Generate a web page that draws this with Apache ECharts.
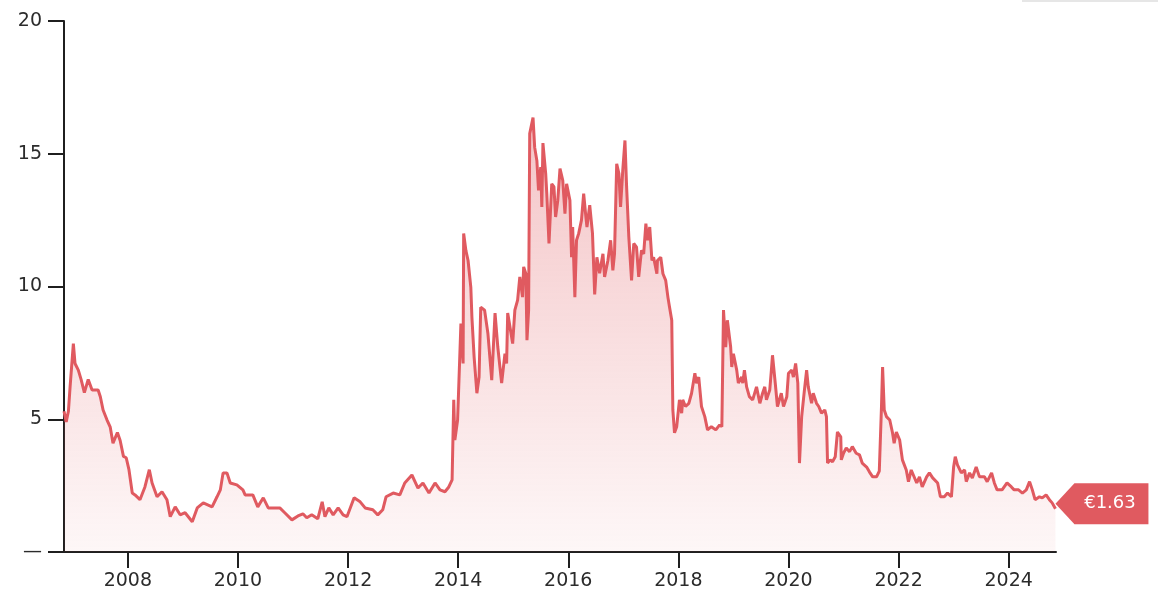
<!DOCTYPE html>
<html>
<head>
<meta charset="utf-8">
<script src="https://cdn.jsdelivr.net/npm/echarts@6/dist/echarts.min.js"></script>
<style>
  html, body { margin: 0; padding: 0; background: #fff; }
  #chart { width: 1158px; height: 598px; }
</style>
</head>
<body>
<div id="chart"></div>
<script>
// dates as decimal years, price in euro
const dates = [
  2006.84, 2006.88, 2006.92, 2006.95, 2007.01, 2007.04, 2007.10, 2007.15, 2007.21, 2007.28,
  2007.35, 2007.46, 2007.50, 2007.55, 2007.62, 2007.68, 2007.73, 2007.81, 2007.86, 2007.92,
  2007.97, 2008.02, 2008.08, 2008.13, 2008.22, 2008.31, 2008.39, 2008.44, 2008.53, 2008.62,
  2008.71, 2008.77, 2008.86, 2008.95, 2009.04, 2009.17, 2009.26, 2009.37, 2009.53, 2009.62,
  2009.68, 2009.73, 2009.80, 2009.86, 2009.98, 2010.09, 2010.13, 2010.27, 2010.36, 2010.46,
  2010.55, 2010.76, 2010.85, 2010.98, 2011.09, 2011.18, 2011.25, 2011.34, 2011.45, 2011.53,
  2011.58, 2011.65, 2011.73, 2011.82, 2011.91, 2011.98, 2012.11, 2012.22, 2012.31, 2012.45,
  2012.54, 2012.63, 2012.69, 2012.82, 2012.94, 2013.03, 2013.16, 2013.27, 2013.36, 2013.47,
  2013.58, 2013.67, 2013.76, 2013.83, 2013.89, 2013.92, 2013.94, 2013.99, 2014.05, 2014.09,
  2014.10, 2014.14, 2014.18, 2014.23, 2014.25, 2014.29, 2014.34, 2014.38, 2014.41, 2014.48,
  2014.54, 2014.61, 2014.67, 2014.72, 2014.79, 2014.85, 2014.88, 2014.90, 2014.96, 2014.99,
  2015.03, 2015.08, 2015.12, 2015.17, 2015.19, 2015.23, 2015.25, 2015.28, 2015.30, 2015.36,
  2015.39, 2015.43, 2015.46, 2015.50, 2015.52, 2015.54, 2015.59, 2015.61, 2015.65, 2015.70,
  2015.74, 2015.77, 2015.81, 2015.85, 2015.90, 2015.94, 2015.97, 2016.03, 2016.06, 2016.08,
  2016.12, 2016.15, 2016.19, 2016.24, 2016.28, 2016.32, 2016.34, 2016.39, 2016.44, 2016.48,
  2016.52, 2016.57, 2016.63, 2016.66, 2016.72, 2016.77, 2016.81, 2016.84, 2016.88, 2016.92,
  2016.95, 2016.99, 2017.03, 2017.06, 2017.10, 2017.15, 2017.19, 2017.24, 2017.28, 2017.33,
  2017.37, 2017.41, 2017.44, 2017.48, 2017.52, 2017.55, 2017.61, 2017.62, 2017.68, 2017.72,
  2017.77, 2017.81, 2017.84, 2017.88, 2017.90, 2017.93, 2017.97, 2018.02, 2018.06, 2018.08,
  2018.13, 2018.19, 2018.24, 2018.30, 2018.33, 2018.37, 2018.42, 2018.48, 2018.53, 2018.60,
  2018.68, 2018.75, 2018.79, 2018.82, 2018.86, 2018.89, 2018.95, 2018.97, 2019.00, 2019.06,
  2019.09, 2019.15, 2019.17, 2019.20, 2019.24, 2019.29, 2019.35, 2019.42, 2019.48, 2019.53,
  2019.57, 2019.60, 2019.66, 2019.69, 2019.71, 2019.76, 2019.80, 2019.87, 2019.91, 2019.97,
  2020.00, 2020.06, 2020.09, 2020.13, 2020.17, 2020.20, 2020.24, 2020.29, 2020.33, 2020.36,
  2020.42, 2020.45, 2020.51, 2020.55, 2020.60, 2020.66, 2020.69, 2020.71, 2020.76, 2020.80,
  2020.85, 2020.89, 2020.95, 2020.96, 2021.00, 2021.05, 2021.11, 2021.16, 2021.23, 2021.29,
  2021.34, 2021.42, 2021.47, 2021.53, 2021.60, 2021.65, 2021.69, 2021.71, 2021.74, 2021.78,
  2021.84, 2021.89, 2021.92, 2021.96, 2022.02, 2022.07, 2022.14, 2022.18, 2022.23, 2022.33,
  2022.38, 2022.43, 2022.51, 2022.56, 2022.62, 2022.71, 2022.76, 2022.83, 2022.89, 2022.96,
  2023.00, 2023.03, 2023.07, 2023.14, 2023.20, 2023.23, 2023.29, 2023.34, 2023.41, 2023.47,
  2023.56, 2023.61, 2023.69, 2023.74, 2023.79, 2023.88, 2023.97, 2024.05, 2024.10, 2024.18,
  2024.25, 2024.32, 2024.38, 2024.43, 2024.48, 2024.56, 2024.61, 2024.68, 2024.74, 2024.79,
  2024.85
];
const prices = [
  5.3, 4.9, 5.3, 6.2, 7.85, 7.1, 6.85, 6.5, 6.0, 6.5,
  6.1, 6.1, 5.85, 5.35, 4.98, 4.7, 4.1, 4.5, 4.2, 3.6,
  3.55, 3.1, 2.22, 2.15, 1.97, 2.45, 3.1, 2.6, 2.08, 2.27,
  1.97, 1.33, 1.7, 1.4, 1.48, 1.14, 1.66, 1.85, 1.7, 2.08,
  2.34, 2.98, 2.98, 2.6, 2.53, 2.34, 2.15, 2.15, 1.7, 2.04,
  1.66, 1.66, 1.48, 1.21, 1.36, 1.44, 1.29, 1.4, 1.25, 1.89,
  1.33, 1.66, 1.4, 1.66, 1.4, 1.33, 2.04, 1.89, 1.66, 1.59,
  1.4, 1.59, 2.08, 2.22, 2.15, 2.6, 2.9, 2.41, 2.6, 2.22,
  2.6, 2.34, 2.27, 2.45, 2.72, 5.73, 4.22, 4.97, 8.6, 7.1,
  12.0, 11.36, 10.98, 9.97, 8.84, 7.34, 5.98, 6.59, 9.22, 9.11,
  8.24, 6.47, 9.0, 7.72, 6.36, 7.47, 7.1, 9.0, 8.24, 7.85,
  9.11, 9.49, 10.36, 9.6, 10.74, 10.48, 7.98, 9.11, 15.76, 16.36,
  15.24, 14.74, 13.62, 14.5, 13.0, 15.4, 14.25, 13.5, 11.62, 13.87,
  13.75, 12.62, 13.25, 14.44, 14.0, 12.74, 13.87, 13.25, 11.1, 12.24,
  9.6, 11.74, 12.0, 12.5, 13.5, 12.62, 12.24, 13.06, 12.0, 9.7,
  11.1, 10.5, 11.23, 10.36, 10.98, 11.74, 10.61, 11.23, 14.62, 14.25,
  13.0, 14.37, 15.5, 13.75, 11.87, 10.23, 11.62, 11.48, 10.36, 11.36,
  11.23, 12.37, 11.74, 12.24, 10.98, 11.1, 10.48, 10.98, 11.1, 10.48,
  10.23, 9.6, 9.22, 8.73, 5.35, 4.49, 4.72, 5.73, 5.23, 5.73,
  5.48, 5.6, 5.98, 6.73, 6.36, 6.59, 5.48, 5.1, 4.6, 4.72,
  4.6, 4.79, 4.72, 9.11, 7.72, 8.73, 7.72, 6.97, 7.47, 6.85,
  6.36, 6.59, 6.36, 6.85, 6.22, 5.85, 5.73, 6.22, 5.6, 5.98,
  6.22, 5.73, 6.1, 6.85, 7.41, 6.36, 5.48, 5.98, 5.48, 5.85,
  6.73, 6.85, 6.59, 7.1, 6.36, 3.35, 5.1, 6.1, 6.85, 6.22,
  5.6, 5.98, 5.6, 5.48, 5.23, 5.35, 5.1, 3.35, 3.47, 3.4,
  3.59, 4.52, 4.34, 3.47, 3.72, 3.92, 3.78, 3.97, 3.72, 3.66,
  3.35, 3.2, 3.02, 2.83, 2.83, 3.05, 5.48, 6.97, 5.35, 5.1,
  4.97, 4.49, 4.1, 4.52, 4.22, 3.47, 3.09, 2.65, 3.09, 2.6,
  2.83, 2.45, 2.83, 2.98, 2.79, 2.6, 2.08, 2.08, 2.22, 2.08,
  3.2, 3.59, 3.28, 2.98, 3.09, 2.65, 2.98, 2.79, 3.2, 2.83,
  2.83, 2.65, 2.98, 2.6, 2.34, 2.34, 2.6, 2.45, 2.34, 2.34,
  2.22, 2.34, 2.65, 2.34, 1.97, 2.08, 2.04, 2.15, 1.97, 1.85,
  1.63
];
const yearTicks = [2008, 2010, 2012, 2014, 2016, 2018, 2020, 2022, 2024];
const lastPrice = 1.63;

const lineColor = '#e05a60';
const axisColor = '#1f1f1f';
const fontFamily = 'DejaVu Sans';

const chart = echarts.init(document.getElementById('chart'));
chart.setOption({
  animation: false,
  textStyle: { fontFamily: fontFamily },
  grid: {
    left: 64,
    right: 102,
    top: 21,
    bottom: 46
  },
  xAxis: {
    type: 'value',
    min: 2006.84,
    max: 2024.86,
    axisLine: { lineStyle: { color: axisColor, width: 2 } },
    axisTick: {
      show: true,
      inside: false,
      length: 16,
      lineStyle: { color: axisColor, width: 2 },
      customValues: yearTicks
    },
    axisLabel: {
      color: '#2b2b2b',
      fontSize: 19,
      margin: 20,
      fontFamily: fontFamily,
      customValues: yearTicks,
      formatter: (v) => String(v)
    },
    splitLine: { show: false }
  },
  yAxis: {
    type: 'value',
    min: 0,
    max: 20,
    interval: 5,
    axisLine: { show: true, lineStyle: { color: axisColor, width: 2 } },
    axisTick: {
      show: true,
      inside: false,
      length: 16,
      lineStyle: { color: axisColor, width: 2 }
    },
    axisLabel: {
      color: '#2b2b2b',
      fontSize: 19,
      margin: 22,
      fontFamily: fontFamily,
      formatter: (v) => (v === 0 ? '—' : String(v))
    },
    splitLine: { show: false }
  },
  graphic: [{
    // clipped button edge in top right corner
    type: 'rect',
    shape: { x: 1022, y: 0, width: 136, height: 2 },
    style: { fill: '#e6e6e6' }
  }],
  series: [{
    type: 'line',
    data: dates.map((d, i) => [d, prices[i]]),
    showSymbol: false,
    lineStyle: { color: lineColor, width: 3 },
    itemStyle: { color: lineColor },
    areaStyle: {
      color: new echarts.graphic.LinearGradient(0, 0, 0, 1, [
        { offset: 0, color: 'rgba(224, 90, 96, 0.5)' },
        { offset: 1, color: 'rgba(224, 90, 96, 0.07)' }
      ])
    },
    markPoint: {
      symbol: 'path://M0,20.5 L19,0 L93,0 L93,41 L19,41 Z',
      symbolSize: [93, 41],
      symbolKeepAspect: false,
      symbolOffset: [46.5, -5],
      itemStyle: { color: lineColor },
      label: {
        show: true,
        position: 'inside',
        color: '#fff',
        fontSize: 18,
        fontFamily: fontFamily,
        offset: [8, 0],
        formatter: '€' + lastPrice.toFixed(2)
      },
      data: [{ coord: [dates[dates.length - 1], lastPrice] }]
    }
  }]
});
</script>
</body>
</html>
